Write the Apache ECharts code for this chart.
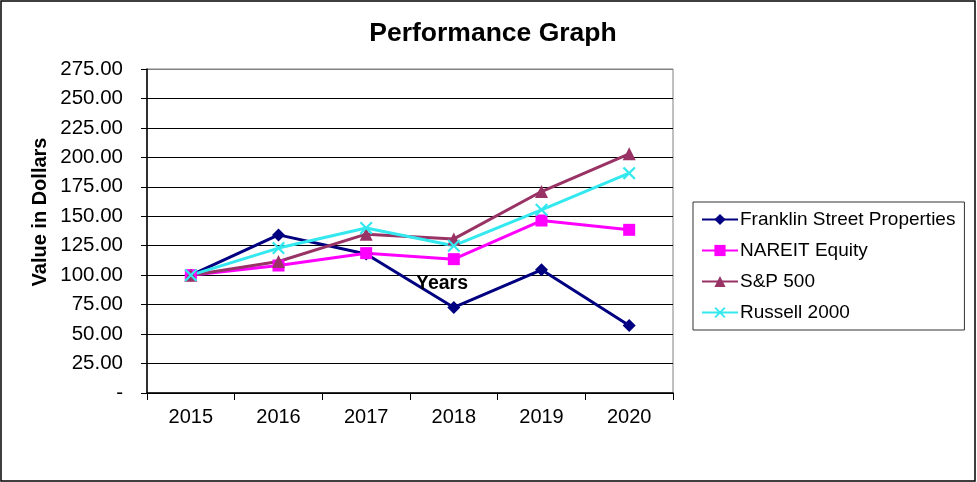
<!DOCTYPE html>
<html>
<head>
<meta charset="utf-8">
<script src="https://cdn.jsdelivr.net/npm/echarts@6/dist/echarts.min.js"></script>
<style>
html,body{margin:0;padding:0;background:#fff;}
#chart{width:977px;height:482px;}
</style>
</head>
<body>
<div id="chart"></div>
<script>
var years = ['2015', '2016', '2017', '2018', '2019', '2020'];
var franklin = [100, 134.2, 118, 72.6, 104.6, 57.3];
var nareit = [100, 108.2, 118.7, 113.6, 146.4, 138.5];
var sp500 = [100, 111.6, 134.8, 130.8, 171, 203];
var russell = [100, 123, 140, 125, 155.5, 186.6];
var seriesNames = ['Franklin Street Properties', 'NAREIT Equity', 'S&P 500', 'Russell 2000'];

var FONT = 'Liberation Sans, Arial, sans-serif';
var xPath = 'path://M1.2,0 L5,3.8 L8.8,0 L10,1.2 L6.2,5 L10,8.8 L8.8,10 L5,6.2 L1.2,10 L0,8.8 L3.8,5 L0,1.2 Z';

function mk(name, data, color, symbol, size) {
  return {
    name: name, type: 'line', data: data,
    symbol: symbol, symbolSize: size,
    lineStyle: { color: color, width: 3 },
    itemStyle: { color: color },
    emphasis: { disabled: true },
    z: 3
  };
}

var chart = echarts.init(document.getElementById('chart'));
var gridColors = [];
for (var i = 0; i < 11; i++) gridColors.push('#000');
gridColors.push('#808080');

chart.setOption({
  animation: false,
  backgroundColor: '#fff',
  textStyle: { fontFamily: FONT },
  title: {
    text: 'Performance Graph', left: 488, top: 15, textAlign: 'center',
    textStyle: { fontFamily: FONT, fontSize: 26.5, fontWeight: 'bold', color: '#000' }
  },
  grid: { left: 147, top: 69, right: 304, bottom: 89, show: true, borderColor: '#808080', borderWidth: 1 },
  legend: {
    orient: 'vertical', left: 693, top: 202,
    padding: [8, 9, 8, 8], itemGap: 12, itemWidth: 36, itemHeight: 14,
    borderColor: '#333', borderWidth: 1, backgroundColor: '#fff',
    textStyle: { fontFamily: FONT, fontSize: 19, color: '#000', padding: [0, 0, 0, -3] },
    data: seriesNames
  },
  xAxis: {
    type: 'category', data: years, boundaryGap: true,
    axisLine: { lineStyle: { color: '#000', width: 1.5 } },
    axisTick: { show: true, length: 7, inside: false, lineStyle: { color: '#000' } },
    axisLabel: { color: '#000', fontSize: 20, margin: 14, fontFamily: FONT },
    splitLine: { show: false }
  },
  yAxis: {
    type: 'value', min: 0, max: 275, interval: 25,
    axisLine: { show: true, lineStyle: { color: '#000', width: 1.5 } },
    axisTick: { show: true, length: 6, lineStyle: { color: '#000' } },
    axisLabel: {
      color: '#000', fontSize: 20.5, margin: 24, fontFamily: FONT,
      formatter: function (v) { return v === 0 ? '-' : v.toFixed(2); }
    },
    splitLine: { show: true, lineStyle: { color: gridColors, width: 1 } }
  },
  graphic: [
    { type: 'rect', shape: { x: 1, y: 1, width: 974, height: 480 }, style: { fill: 'none', stroke: '#000', lineWidth: 1.5 }, silent: true, z: -1 },
    { type: 'text', x: 40, y: 212, rotation: Math.PI / 2, style: { text: 'Value in Dollars', fontFamily: FONT, fontSize: 20, fontWeight: 'bold', fill: '#000', align: 'center', verticalAlign: 'middle' }, z: 10 },
    { type: 'text', x: 442, y: 284, style: { text: 'Years', fontFamily: FONT, fontSize: 19.5, fontWeight: 'bold', fill: '#000', align: 'center', verticalAlign: 'middle' }, z: 10 }
  ],
  series: [
    mk(seriesNames[0], franklin, '#000080', 'diamond', 13),
    mk(seriesNames[1], nareit, '#FF00FF', 'rect', 12),
    mk(seriesNames[2], sp500, '#993366', 'triangle', 13),
    mk(seriesNames[3], russell, '#33E8EE', xPath, 13)
  ]
});
</script>
</body>
</html>
